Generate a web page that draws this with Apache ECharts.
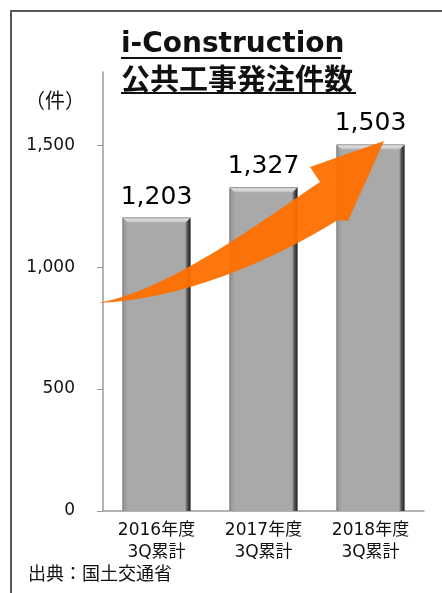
<!DOCTYPE html>
<html>
<head>
<meta charset="utf-8">
<script src="https://cdn.jsdelivr.net/npm/echarts@6/dist/echarts.min.js"></script>
<style>
  html, body { margin: 0; padding: 0; background: #ffffff; }
  #chart { width: 442px; height: 593px; }
</style>
</head>
<body>
<div id="chart"></div>
<script>
//Chart data
var categories = ["2016年度\n3Q累計", "2017年度\n3Q累計", "2018年度\n3Q累計"];
var order_counts = [1203, 1327, 1503];
var y_tick_values = [0, 500, 1000, 1500];
var title_lines = ["i-Construction", "公共工事発注件数"];
var unit_label = "（件）";
var source_label = "出典：国土交通省";

//Declare local instance variables
var font_family = '"DejaVu Sans", "Noto Sans CJK JP", sans-serif';
var bar_width = 68;
var bevel = 5;
var arrow_path = "M 98 303 C 180 300, 270 262, 338 220 L 348 221 L 384 141 L 310 167 L 320 182 C 260 222, 170 290, 98 303 Z";
var chart = echarts.init(document.getElementById("chart"), null, { renderer: "canvas" });

function formatNumber (arg0_value) {
	//Return statement
	return Number(arg0_value).toLocaleString("en-US");
}

function renderBevel (params, api) {
	//Declare local instance variables
	var top = api.coord([api.value(0), api.value(1)]);
	var base = api.coord([api.value(0), 0]);
	var x0 = top[0] - bar_width/2, x1 = top[0] + bar_width/2;
	var y0 = top[1], y1 = base[1];

	//Return statement
	return {
		type: "group",
		children: [
			{ type: "polygon", shape: { points: [[x0, y0], [x0 + bevel, y0 + bevel], [x0 + bevel, y1], [x0, y1]] },
				style: { fill: new echarts.graphic.LinearGradient(0, 0, 1, 0, [
					{ offset: 0, color: "#6e6e6e" }, { offset: 0.3, color: "#9a9a9a" }, { offset: 1, color: "#a4a4a4" }
				]) } },
			{ type: "polygon", shape: { points: [[x1, y0], [x1, y1], [x1 - bevel, y1], [x1 - bevel, y0 + bevel]] },
				style: { fill: new echarts.graphic.LinearGradient(0, 0, 1, 0, [
					{ offset: 0, color: "#8a8a8a" }, { offset: 0.5, color: "#4a4a4a" }, { offset: 1, color: "#1e1e1e" }
				]) } },
			{ type: "polygon", shape: { points: [[x0, y0], [x1, y0], [x1 - bevel, y0 + bevel], [x0 + bevel, y0 + bevel]] },
				style: { fill: new echarts.graphic.LinearGradient(0, 0, 0, 1, [
					{ offset: 0, color: "#8a8a8a" }, { offset: 0.3, color: "#e2e2e2" }, { offset: 1, color: "#bdbdbd" }
				]) } }
		]
	};
}

function renderArrow (params, api) {
	//Return statement
	return {
		type: "path",
		shape: { pathData: arrow_path },
		style: { fill: "#ff6f00", opacity: 0.95 }
	};
}

var option = {
	backgroundColor: "#ffffff",
	animation: false,
	textStyle: { fontFamily: font_family },
	grid: { left: 103, right: 18, top: 72, bottom: 82 },
	xAxis: {
		type: "category",
		data: categories,
		axisLine: { lineStyle: { color: "#9a9a9a", width: 1.5 } },
		axisTick: { show: false },
		axisLabel: {
			color: "#111111",
			fontSize: 17,
			lineHeight: 22,
			margin: 9,
			fontFamily: font_family
		}
	},
	yAxis: {
		type: "value",
		min: 0,
		max: 1800,
		interval: 500,
		splitLine: { show: false },
		axisLine: { show: true, lineStyle: { color: "#9a9a9a", width: 1.5 } },
		axisTick: { show: true, length: 6, customValues: y_tick_values, lineStyle: { color: "#9a9a9a" } },
		axisLabel: {
			customValues: y_tick_values,
			color: "#111111",
			fontSize: 17,
			margin: 28,
			fontFamily: font_family,
			formatter: formatNumber
		}
	},
	series: [
		{
			name: "公共工事発注件数",
			type: "bar",
			data: order_counts,
			barWidth: bar_width,
			itemStyle: { color: "#a9a9a9" },
			label: {
				show: true,
				position: "top",
				distance: 8,
				color: "#000000",
				fontSize: 25,
				fontFamily: font_family,
				formatter: function (p) { return formatNumber(p.value); }
			},
			z: 2
		},
		{
			name: "bevel",
			type: "custom",
			data: order_counts.map(function (v, i) { return [i, v]; }),
			renderItem: renderBevel,
			silent: true,
			z: 3
		},
		{
			name: "arrow",
			type: "custom",
			data: [[0, 0]],
			renderItem: renderArrow,
			silent: true,
			clip: false,
			z: 20
		}
	],
	graphic: [
		//Frame
		{ type: "rect", shape: { x: 11, y: 11, width: 470, height: 620 },
			style: { fill: "none", stroke: "#595959", lineWidth: 2 }, z: 1 },
		//Title
		{ type: "text", x: 121, y: 45, z: 10,
			style: { text: title_lines[0], font: 'bold 28px "DejaVu Sans", sans-serif', fill: "#111111", verticalAlign: "middle" } },
		{ type: "line", shape: { x1: 121, y1: 58, x2: 341, y2: 58 }, style: { stroke: "#111111", lineWidth: 2 }, z: 10 },
		{ type: "text", x: 121, y: 79, z: 10,
			style: { text: title_lines[1], font: 'bold 29px "Noto Sans CJK JP", sans-serif', fill: "#111111", verticalAlign: "middle" } },
		{ type: "line", shape: { x1: 121, y1: 93, x2: 356, y2: 93 }, style: { stroke: "#111111", lineWidth: 2 }, z: 10 },
		//Unit and source
		{ type: "text", x: 55, y: 100, z: 10,
			style: { text: unit_label, font: '20px "Noto Sans CJK JP", sans-serif', fill: "#111111", align: "center", verticalAlign: "middle" } },
		{ type: "text", x: 28, y: 573, z: 10,
			style: { text: source_label, font: '18px "Noto Sans CJK JP", sans-serif', fill: "#111111", verticalAlign: "middle" } }
	]
};

chart.setOption(option);
</script>
</body>
</html>
